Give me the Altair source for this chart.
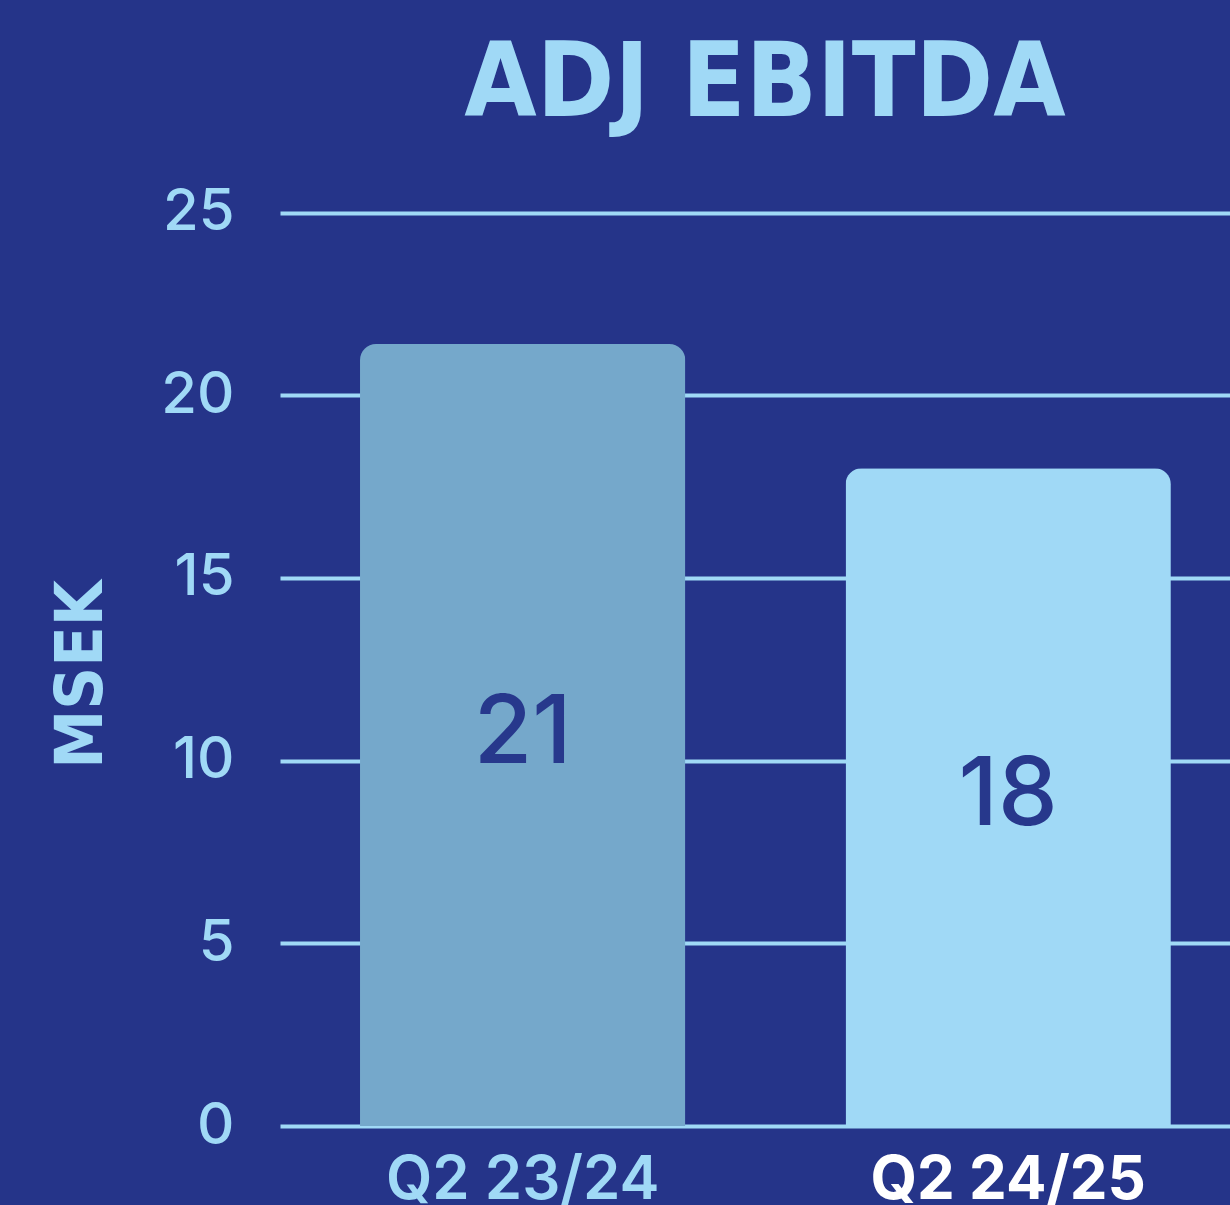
import altair as alt
import pandas as pd

quarters = ["Q2 23/24", "Q2 24/25"]
values = [21.4, 18.0]
labels = ["21", "18"]
bar_colors = ["#75a8cb", "#a0d9f6"]

BG = "#253489"
LIGHT = "#a0d9f6"
DARK = "#27388c"

df = pd.DataFrame({"quarter": quarters, "value": values, "label": labels})

x_enc = alt.X(
    "quarter:N",
    sort=quarters,
    scale=alt.Scale(paddingInner=0.33, paddingOuter=0.1433, align=0.575),
    axis=alt.Axis(
        title=None,
        labelAngle=0,
        domain=False,
        ticks=False,
        tickSize=0,
        labelPadding=25,
        labelLimit=500,
        labelFont="Inter",
        labelFontSize=60,
        labelFontWeight={"condition": {"test": "datum.value === 'Q2 24/25'", "value": "bold"}, "value": 600},
        labelColor={"condition": {"test": "datum.value === 'Q2 24/25'", "value": "#ffffff"}, "value": LIGHT},
        labelBaseline="top",
    ),
)

bars = alt.Chart(df).mark_bar(
    cornerRadiusTopLeft=16, cornerRadiusTopRight=16
).encode(
    x=x_enc,
    y=alt.Y(
        "value:Q",
        scale=alt.Scale(domain=[0, 25]),
        axis=alt.Axis(
            title="MSEK",
            values=[0, 5, 10, 15, 20, 25],
            domain=False,
            ticks=False,
            tickSize=0,
            labelPadding=46,
            labelFont="Inter",
            labelFontSize=58,
            labelFontWeight=500,
            labelColor=LIGHT,
            grid=True,
            gridColor=LIGHT,
            gridWidth=4,
            titleFont="DejaVu Sans Condensed, DejaVu Sans",
            titleFontWeight="bold",
            titleFontSize=66,
            titleColor=LIGHT,
            titlePadding=45,
            titleY=498,
        ),
    ),
    color=alt.Color("quarter:N", scale=alt.Scale(domain=quarters, range=bar_colors), legend=None),
)

text = alt.Chart(df).transform_calculate(mid="datum.value / 2").mark_text(
    font="Inter", fontSize=95, fontWeight=500, color=DARK, baseline="middle", dy=-1
).encode(
    x=alt.X("quarter:N", sort=quarters),
    y=alt.Y("mid:Q"),
    text="label:N",
)

chart = alt.layer(bars, text).properties(
    width=1230,
    height=1205,
    title=alt.TitleParams(
        "ADJ EBITDA",
        font="DejaVu Sans Condensed, DejaVu Sans",
        fontSize=104,
        fontWeight="bold",
        color=LIGHT,
        anchor="middle",
        baseline="bottom",
        offset=-66,
        dx=10,
    ),
    autosize=alt.AutoSizeParams(type="fit", contains="padding"),
    padding={"left": 48, "top": 33, "right": 0, "bottom": -5},
    background=BG,
).configure_view(stroke=None)

chart.save("out.html", embed_options={"renderer": "svg", "actions": False})
